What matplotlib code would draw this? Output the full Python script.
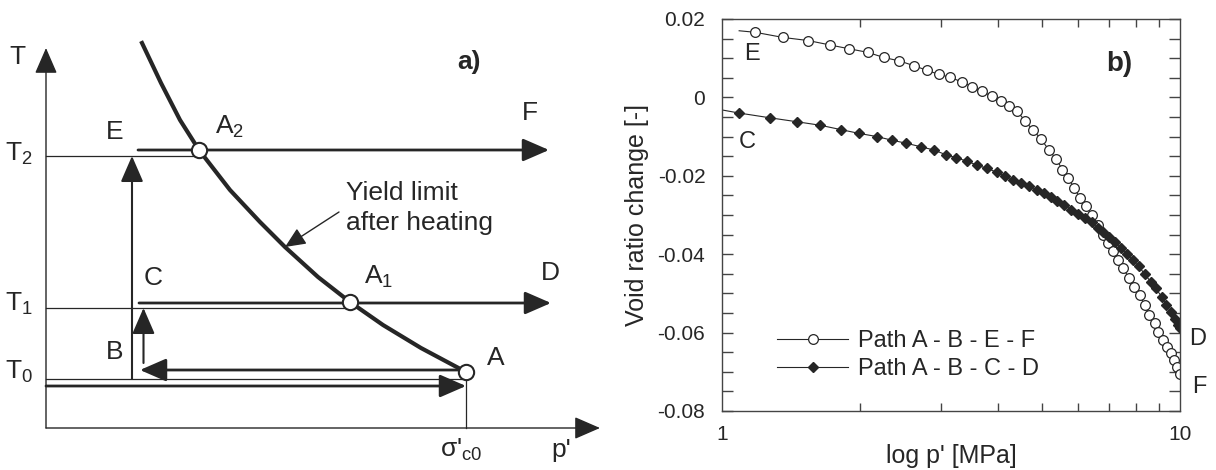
import numpy as np
import matplotlib
matplotlib.use("Agg")
from matplotlib import pyplot as plt
from matplotlib.ticker import MultipleLocator, LogLocator, NullFormatter, FixedLocator

plt.rcParams['font.family'] = ['Liberation Sans', 'DejaVu Sans']
plt.rcParams['mathtext.fontset'] = 'custom'
plt.rcParams['mathtext.rm'] = 'Liberation Sans'

ink = '#262626'

# ---- panel a) schematic (p', T in drawing units) ----
yield_p = [96, 115, 134, 153, 184, 214, 239, 272, 304, 337, 375, 420]
yield_T = [385, 345, 308, 278, 238, 206, 181, 151, 126, 103, 80, 56]
T_levels = {'T_0': 49, 'T_1': 120, 'T_2': 272}
sig_c0 = 420
p_axis_end = 554
T_axis_end = 380

# ---- panel b) void ratio change ----
p_EF = [1.09, 1.183, 1.358, 1.543, 1.717, 1.895, 2.079, 2.254, 2.440, 2.624, 2.802,
        2.972, 3.153, 3.346, 3.515, 3.692, 3.879, 4.060, 4.240, 4.410, 4.587,
        4.771, 4.964, 5.164, 5.372, 5.534, 5.700, 5.871, 6.047, 6.229, 6.416,
        6.609, 6.807, 6.970, 7.151, 7.338, 7.514, 7.740, 7.941, 8.163, 8.375,
        8.576, 8.799, 8.975, 9.188, 9.371, 9.557, 9.708, 9.862, 10.0]
e_EF = [0.0170, 0.0166, 0.0153, 0.0145, 0.0134, 0.0124, 0.0115, 0.0102, 0.0093,
        0.0081, 0.0069, 0.0059, 0.0051, 0.0039, 0.0027, 0.0016, 0.0003, -0.0009,
        -0.0022, -0.0035, -0.0060, -0.0083, -0.0105, -0.0133, -0.0158, -0.0184,
        -0.0205, -0.0231, -0.0256, -0.0278, -0.0299, -0.0325, -0.0350, -0.0372,
        -0.0393, -0.0414, -0.0436, -0.0461, -0.0483, -0.0504, -0.0530, -0.0555,
        -0.0576, -0.0598, -0.0619, -0.0636, -0.0653, -0.0670, -0.0687, -0.0706]

p_CD = [1.0, 1.091, 1.272, 1.455, 1.638, 1.815, 1.995, 2.181, 2.345, 2.527, 2.719,
        2.897, 3.079, 3.248, 3.433, 3.606, 3.789, 3.981, 4.157, 4.324, 4.498,
        4.680, 4.868, 5.043, 5.215, 5.393, 5.587, 5.789, 5.987, 6.190, 6.416,
        6.609, 6.807, 7.012, 7.223, 7.440, 7.663, 7.893, 8.128, 8.375, 8.627,
        8.849, 9.115, 9.333, 9.557, 9.748, 9.902, 10.0]
e_CD = [-0.0032, -0.0040, -0.0052, -0.0062, -0.0071, -0.0082, -0.0092, -0.0100,
        -0.0109, -0.0117, -0.0126, -0.0134, -0.0146, -0.0154, -0.0163, -0.0173,
        -0.0181, -0.0191, -0.0201, -0.0210, -0.0218, -0.0227, -0.0235, -0.0245,
        -0.0254, -0.0265, -0.0275, -0.0286, -0.0297, -0.0308, -0.0319, -0.0332,
        -0.0344, -0.0356, -0.0369, -0.0384, -0.0399, -0.0416, -0.0431, -0.0451,
        -0.0470, -0.0487, -0.0508, -0.0530, -0.0547, -0.0565, -0.0581, -0.0589]

fig = plt.figure(figsize=(12.16, 4.7), dpi=100)

# ================= left: schematic =================
ax = fig.add_axes([0, 0, 0.5, 1])
ax.set_xlim(-46, 562)
ax.set_ylim(-42, 428)
ax.axis('off')


def arrow(x0, y0, x1, y1, lw=1.2, hl=1.15, hw=0.5, ms=14):
    ax.annotate('', xy=(x1, y1), xytext=(x0, y0),
                arrowprops=dict(arrowstyle='-|>,head_length=%g,head_width=%g' % (hl, hw),
                                color=ink, lw=lw, mutation_scale=ms,
                                shrinkA=0, shrinkB=0))


# axes
arrow(0, 0, p_axis_end, 0, lw=1.0)
arrow(0, 0, 0, T_axis_end, lw=1.0)

T0, T1, T2 = T_levels['T_0'], T_levels['T_1'], T_levels['T_2']

# thin level lines
ax.plot([0, sig_c0], [T0, T0], color=ink, lw=0.9)
ax.plot([0, yield_p[8]], [T1, T1], color=ink, lw=0.9)
ax.plot([0, yield_p[3]], [T2, T2], color=ink, lw=0.9)
ax.plot([sig_c0, sig_c0], [0, yield_T[-1]], color=ink, lw=0.9)

# stress paths
arrow(0, T0 - 7, sig_c0, T0 - 7, lw=2.0)
arrow(sig_c0 - 5, yield_T[-1] + 2, 94, yield_T[-1] + 2, lw=2.0)
arrow(86, T0, 86, T2, lw=1.5)
arrow(97.5, T0 + 16, 97.5, T1, lw=1.5)
arrow(93, T1 + 5, 505, T1 + 5, lw=2.0)
arrow(92, T2 + 6, 503, T2 + 6, lw=2.0)

# yield curve
ax.plot(yield_p, yield_T, color=ink, lw=3.0, solid_joinstyle='round', zorder=3)
ax.plot([yield_p[3], yield_p[8], yield_p[-1]], [yield_T[3], yield_T[8], yield_T[-1]],
        'o', ms=11, mfc='white', mec=ink, mew=1.5, zorder=4)

fs = 19
tkw = dict(color=ink, fontsize=fs, ha='center', va='center')
ax.text(-29, 371, 'T', **tkw)
ax.text(-27, T2 + 2, r'T$_\mathregular{2}$', **tkw)
ax.text(-27, T1 + 4, r'T$_\mathregular{1}$', **tkw)
ax.text(-27, T0 + 7, r'T$_\mathregular{0}$', **tkw)
ax.text(69, 296, 'E', **tkw)
ax.text(184, 301, r'A$_\mathregular{2}$', **tkw)
ax.text(484, 315, 'F', **tkw)
ax.text(107, 150, 'C', **tkw)
ax.text(333, 151, r'A$_\mathregular{1}$', **tkw)
ax.text(504, 155, 'D', **tkw)
ax.text(69, 76, 'B', **tkw)
ax.text(450, 70, 'A', **tkw)
ax.text(415, -22, r"σ'$_\mathregular{c0}$", **tkw)
ax.text(515, -22, "p'", **tkw)
ax.text(423, 366, 'a)', color=ink, fontsize=fs, ha='center', va='center',
        fontweight='bold')
ax.text(300, 220, 'Yield limit\nafter heating', color=ink, fontsize=fs,
        ha='left', va='center', linespacing=1.3)
ax.annotate('', xy=(239, 181), xytext=(293, 216),
            arrowprops=dict(arrowstyle='-|>,head_length=0.9,head_width=0.4',
                            color=ink, lw=1.0, mutation_scale=14,
                            shrinkA=0, shrinkB=0))

# ================= right: void ratio =================
ax2 = fig.add_axes([722 / 1216, 59 / 470, 458 / 1216, 392 / 470])
ax2.set_xscale('log')
ax2.plot(p_EF, e_EF, color=ink, lw=0.8, marker='o', ms=7, mfc='white',
         mec=ink, mew=0.9, markevery=slice(1, None), label='Path A - B - E - F')
ax2.plot(p_CD, e_CD, color=ink, lw=0.8, marker='D', ms=5, mfc=ink,
         mec=ink, markevery=slice(1, None), label='Path A - B - C - D')
ax2.set_xlim(1, 10)
ax2.set_ylim(-0.08, 0.02)

ax2.xaxis.set_major_locator(FixedLocator([1, 10]))
ax2.set_xticklabels(['1', '10'])
ax2.xaxis.set_minor_locator(LogLocator(base=10, subs=np.arange(2, 10)))
ax2.xaxis.set_minor_formatter(NullFormatter())
ax2.yaxis.set_major_locator(MultipleLocator(0.02))
ax2.yaxis.set_minor_locator(MultipleLocator(0.005))
ax2.set_yticklabels(['%g' % v if v != 0 else '0' for v in ax2.get_yticks()])
ax2.tick_params(which='both', direction='in', top=True, right=True,
                color='#444444', labelsize=15, labelcolor=ink, width=1.0)
ax2.tick_params(axis='y', which='both', length=8, pad=12)
ax2.tick_params(axis='x', which='both', length=6, pad=10)
ax2.tick_params(axis='x', which='major', length=0)
for s in ax2.spines.values():
    s.set_color('#444444')
    s.set_linewidth(1.0)

ax2.set_ylabel('Void ratio change [-]', fontsize=18, color=ink, labelpad=6)
ax2.set_xlabel("log p' [MPa]", fontsize=18, color=ink, labelpad=0)

ax2.text(1.16, 0.0110, 'E', color=ink, fontsize=17, ha='center', va='center')
ax2.text(1.135, -0.0114, 'C', color=ink, fontsize=17, ha='center', va='center')
ax2.text(7.37, 0.0085, 'b)', color=ink, fontsize=20, ha='center', va='center',
         fontweight='bold')
ax2.text(10.9, -0.0617, 'D', color=ink, fontsize=17, ha='center', va='center',
         clip_on=False)
ax2.text(11.0, -0.0739, 'F', color=ink, fontsize=17, ha='center', va='center',
         clip_on=False)

leg = ax2.legend(loc='lower left', bbox_to_anchor=(0.1, 0.055), frameon=False,
                 fontsize=17, handlelength=3.0, handletextpad=0.4,
                 labelspacing=0.25, borderaxespad=0)
for t in leg.get_texts():
    t.set_color(ink)

fig.savefig('out.png', dpi=100)
